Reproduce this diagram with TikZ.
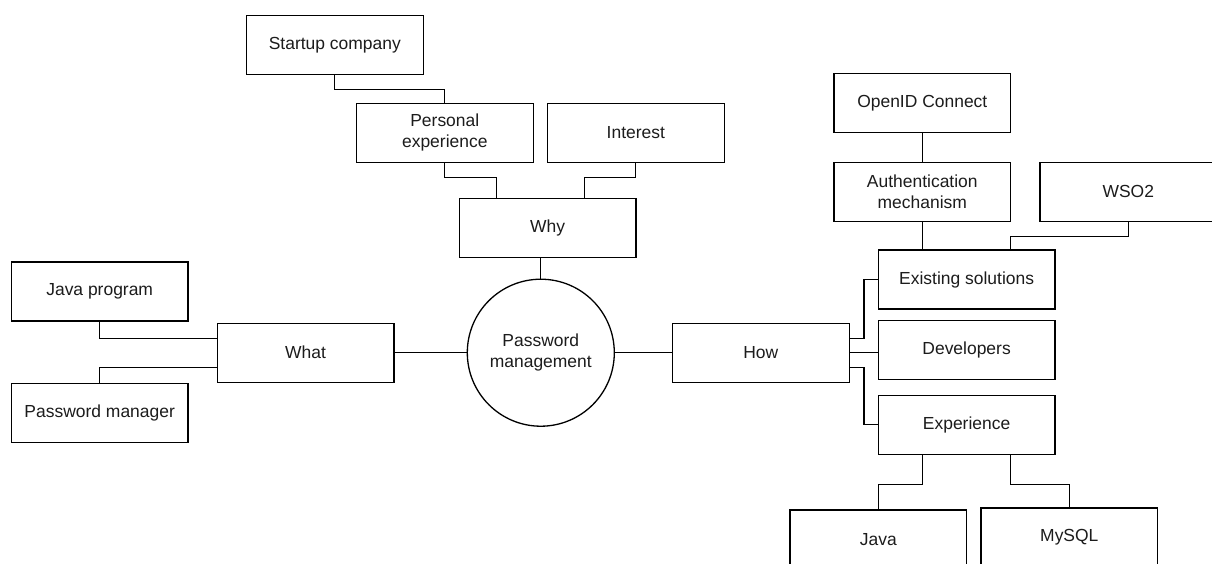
\documentclass[tikz,border=0pt]{standalone}
\usepackage{fontspec}
\setmainfont{Liberation Sans}
\definecolor{ink}{RGB}{28,28,28}
\tikzset{
  box/.style={draw=black, line width=1.3pt, rectangle, minimum width=176.7pt,
    minimum height=59pt, inner sep=0pt, align=center, text=ink,
    font=\fontsize{17.46pt}{21pt}\selectfont},
  hub/.style={draw=black, line width=1.3pt, circle, minimum size=147pt,
    inner sep=0pt, align=center, text=ink,
    font=\fontsize{17.46pt}{21pt}\selectfont},
  link/.style={draw=black, line width=1.3pt}
}
\begin{document}
\begin{tikzpicture}[x=1pt,y=-1pt]
\useasboundingbox[fill=white] (0,0) rectangle (1212,563);

% central topic
\node[hub] (pm) at (540.8,352.7) {Password\\management};

% why branch
\node[box] (why) at (547.7,228.2) {Why};
\node[box] (personal) at (444.8,132.7) {Personal\\experience};
\node[box] (interest) at (635.8,132.7) {Interest};
\node[box] (startup) at (334.8,44.8) {Startup company};

% what branch
\node[box] (what) at (305.5,352.7) {What};
\node[box] (javaprog) at (99.7,291.5) {Java program};
\node[box] (pwmgr) at (99.7,413.3) {Password manager};

% how branch
\node[box] (how) at (760.8,352.7) {How};
\node[box] (existing) at (966.6,279.5) {Existing solutions};
\node[box] (devs) at (966.6,350) {Developers};
\node[box] (experience) at (966.6,424.7) {Experience};
\node[box] (auth) at (922.3,191.8) {Authentication\\mechanism};
\node[box] (openid) at (922.3,103.3) {OpenID Connect};
\node[box] (wso2) at (1128.3,191.8) {WSO2};
\node[box] (java) at (878.3,539.5) {Java};
\node[box] (mysql) at (1069.3,537.5) {MySQL};

% connectors: why
\draw[link] (startup.south) -- ++(0,14.3) -| (personal.north);
\draw[link] (personal.south) -- ++(0,14.7) -| ([xshift=-51.4pt]why.north);
\draw[link] (interest.south) -- ++(0,14.7) -| ([xshift=36.6pt]why.north);
\draw[link] (pm.north) -- (pm.north |- why.south);

% connectors: what
\draw[link] (what.east) -- (pm.west);
\draw[link] (javaprog.south) |- ([yshift=14.4pt]what.west);
\draw[link] (pwmgr.north) |- ([yshift=-14.6pt]what.west);

% connectors: how
\draw[link] (pm.east) -- (how.west);
\draw[link] ([yshift=14.4pt]how.east) -- ++(14.3,0) |- (existing.west);
\draw[link] (how.east) -- (how.east -| devs.west);
\draw[link] ([yshift=-14.6pt]how.east) -- ++(14.3,0) |- (experience.west);
\draw[link] (openid.south) -- (auth.north);
\draw[link] (auth.south) -- (auth.south |- existing.north);
\draw[link] (wso2.south) -- ++(0,14.4) -| ([xshift=44.1pt]existing.north);
\draw[link] ([xshift=-44pt]experience.south) -- ++(0,29.7) -| (java.north);
\draw[link] ([xshift=43.7pt]experience.south) -- ++(0,29.7) -| (mysql.north);
\end{tikzpicture}
\end{document}
